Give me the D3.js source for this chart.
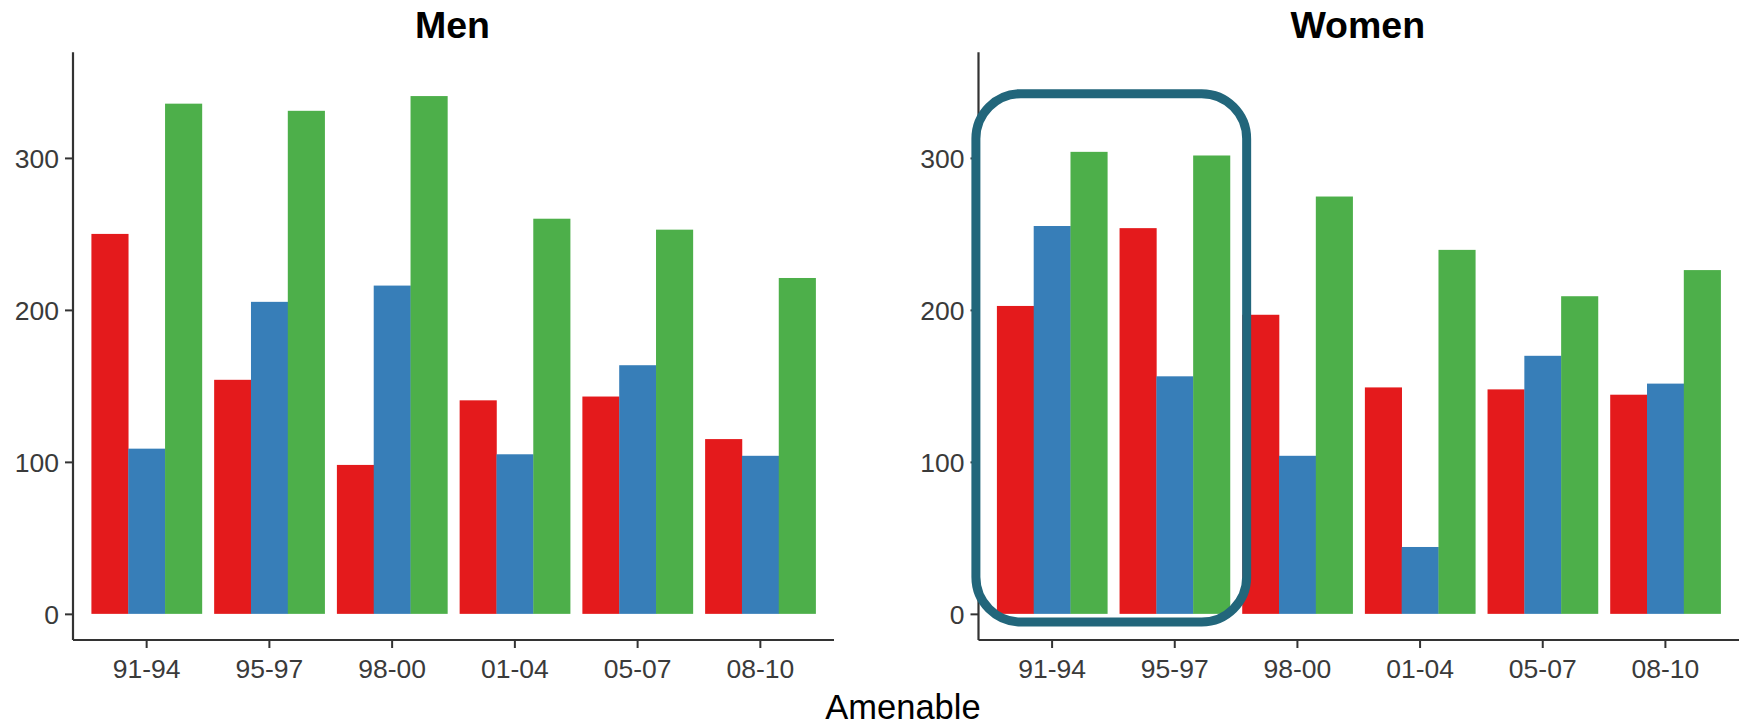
<!DOCTYPE html>
<html>
<head>
<meta charset="utf-8">
<script src="https://cdn.jsdelivr.net/npm/d3@7"></script>
<style>
  html, body { margin: 0; padding: 0; background: #fff; }
  svg { display: block; }
</style>
</head>
<body>
<svg id="chart" width="1746" height="727"></svg>
<script>
const categories = ["91-94", "95-97", "98-00", "01-04", "05-07", "08-10"];
const seriesNames = ["s1", "s2", "s3"];
const seriesColors = ["#E41A1C", "#377EB8", "#4DAF4A"];
const yTicks = [0, 100, 200, 300];

const menRed   = [250, 154, 98, 140.5, 143, 115];
const menBlue  = [108.7, 205.3, 216, 105, 163.6, 104];
const menGreen = [335.7, 331, 340.7, 260, 252.8, 221];

const womenRed   = [202.6, 253.8, 196.8, 149, 147.7, 144.2];
const womenBlue  = [255.2, 156.3, 104, 44, 169.8, 151.5];
const womenGreen = [304, 301.6, 274.6, 239.5, 209, 226.2];

const panelTitles = ["Men", "Women"];
const xTitle = "Amenable";

const panels = [
  { title: panelTitles[0], series: [menRed, menBlue, menGreen], x0: 73, x1: 834 },
  { title: panelTitles[1], series: [womenRed, womenBlue, womenGreen], x0: 978.5, x1: 1739 }
];

const svg = d3.select("#chart");
const panelTop = 52.3, panelBottom = 640;
const y = d3.scaleLinear().domain([-17.2, 369.5]).range([panelBottom, panelTop]);
const axisColor = "#333333";
const font = "'Liberation Sans', Arial, sans-serif";

panels.forEach((p, pi) => {
  const x = d3.scaleBand().domain(categories).range([p.x0, p.x1])
    .paddingInner(0.1).paddingOuter(0.15);
  const xs = d3.scaleBand().domain(seriesNames).range([0, x.bandwidth()]).padding(0);
  const g = svg.append("g");

  // bars
  p.series.forEach((vals, si) => {
    g.selectAll(null).data(categories).enter().append("rect")
      .attr("x", c => x(c) + xs(seriesNames[si]))
      .attr("width", xs.bandwidth() + 0.3)
      .attr("y", (c, i) => y(vals[i]))
      .attr("height", (c, i) => y(0) - y(vals[i]))
      .attr("fill", seriesColors[si]);
  });

  // y axis
  const yAxis = d3.axisLeft(y).tickValues(yTicks).tickSize(8).tickPadding(6).tickSizeOuter(0);
  const ya = g.append("g").attr("transform", `translate(${p.x0},0)`).call(yAxis);
  ya.select(".domain").attr("d", `M0,${panelBottom}V${panelTop}`);
  // x axis
  const xAxis = d3.axisBottom(x).tickSize(8).tickPadding(11).tickSizeOuter(0);
  const xa = g.append("g").attr("transform", `translate(0,${panelBottom})`).call(xAxis);
  xa.select(".domain").attr("d", `M${p.x0},0H${p.x1}`);

  [ya, xa].forEach(a => {
    a.select(".domain").attr("stroke", axisColor).attr("stroke-width", 2.2).attr("fill", "none");
    a.selectAll(".tick line").attr("stroke", axisColor).attr("stroke-width", 2);
    a.selectAll(".tick text").attr("fill", "#3a3a3a")
      .style("font-family", font).style("font-size", "26.5px");
  });
  ya.selectAll(".tick text").attr("dy", "0.35em");

  // title
  svg.append("text")
    .attr("x", (p.x0 + p.x1) / 2 - 1)
    .attr("y", 38)
    .attr("text-anchor", "middle")
    .style("font-family", font)
    .style("font-weight", "bold")
    .style("font-size", "37.5px")
    .attr("fill", "#000")
    .text(p.title);

  // highlight box on women panel around first two categories
  if (pi === 1) {
    const left = x(categories[0]) - 21;
    const right = x(categories[1]) + x.bandwidth() + 16.7;
    const top = y(342.3);
    const bottom = y(-5.4);
    svg.append("rect")
      .attr("x", left).attr("y", top)
      .attr("width", right - left).attr("height", bottom - top)
      .attr("rx", 45).attr("ry", 45)
      .attr("fill", "none")
      .attr("stroke", "#22667B")
      .attr("stroke-width", 9);
  }
});

svg.append("text")
  .attr("x", 903)
  .attr("y", 719)
  .attr("text-anchor", "middle")
  .style("font-family", font)
  .style("font-size", "34.5px")
  .attr("fill", "#000")
  .text(xTitle);
</script>
</body>
</html>
